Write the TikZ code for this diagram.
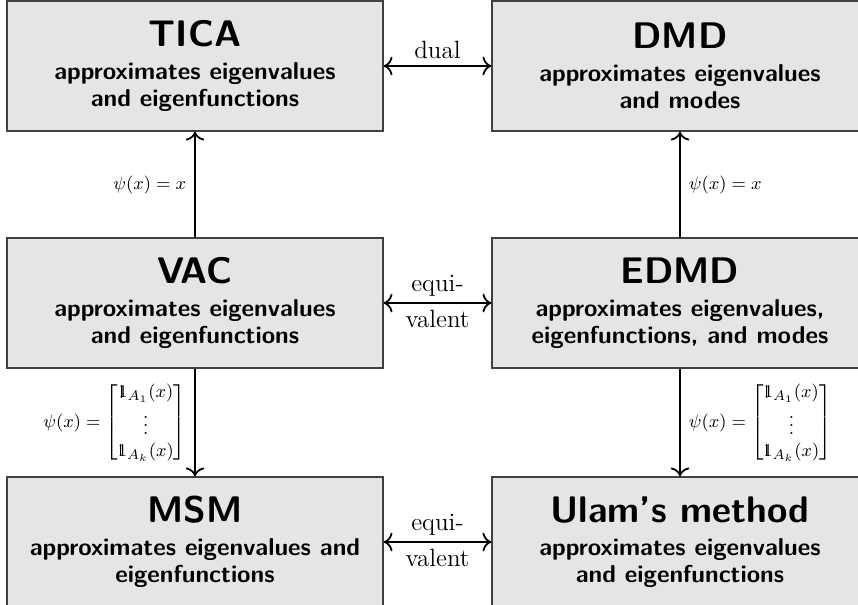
\documentclass[tikz,border=0pt]{standalone}
\usepackage{amsmath}
\usetikzlibrary{arrows.meta}
\tikzset{
  box/.style={draw=black!75, fill=black!10, line width=0.6pt,
    minimum width=188pt, minimum height=65pt, align=center, inner sep=0pt,
    font=\sffamily\bfseries\fontsize{12.2}{13.5}\selectfont},
  conn/.style={line width=0.9pt, >={Computer Modern Rightarrow[scale=1.25]}},
  elabel/.style={font=\fontsize{12.5}{15}\selectfont, inner sep=3pt},
  mlabel/.style={font=\fontsize{9.5}{11}\selectfont, inner sep=4pt}
}
\newcommand{\boxtitle}[1]{{\fontsize{18.5}{18.5}\selectfont #1}\\[3pt]}
\newcommand{\indic}{\mathrm{1}\mkern-6.6mu\rule{0.055em}{0.645em}\mkern5.5mu}
\begin{document}
\begin{tikzpicture}[x=0.5pt,y=-0.5pt]
\clip (0,0) rectangle (858,605);
\node[box] (tica) at (195,66) {\boxtitle{TICA}approximates eigenvalues\\ and eigenfunctions};
\node[box] (dmd) at (680,66) {\boxtitle{DMD}approximates eigenvalues\\ and modes};
\node[box] (vac) at (195,303) {\boxtitle{VAC}approximates eigenvalues\\ and eigenfunctions};
\node[box] (edmd) at (680,303) {\boxtitle{EDMD}approximates eigenvalues,\\ eigenfunctions, and modes};
\node[box] (msm) at (195,542) {\boxtitle{MSM}approximates eigenvalues and\\ eigenfunctions};
\node[box] (ulam) at (680,542) {\boxtitle{Ulam's method}approximates eigenvalues\\ and eigenfunctions};

\draw[conn,<->] (tica) -- node[above, elabel] {dual} (dmd);
\draw[conn,<->] (vac) -- node[above, elabel] {equi-} node[below, elabel] {valent} (edmd);
\draw[conn,<->] (msm) -- node[above, elabel] {equi-} node[below, elabel] {valent} (ulam);

\draw[conn,->] (vac) -- node[left, mlabel] {$\psi(x) = x$} (tica);
\draw[conn,->] (edmd) -- node[right, mlabel] {$\psi(x) = x$} (dmd);
\draw[conn,->] (vac) -- node[left, mlabel] {$\psi(x) = \begin{bmatrix} \indic_{A_1}(x)\\ \vdots \\ \indic_{A_k}(x)\end{bmatrix}$} (msm);
\draw[conn,->] (edmd) -- node[right, mlabel] {$\psi(x) = \begin{bmatrix} \indic_{A_1}(x)\\ \vdots \\ \indic_{A_k}(x)\end{bmatrix}$} (ulam);
\end{tikzpicture}
\end{document}
